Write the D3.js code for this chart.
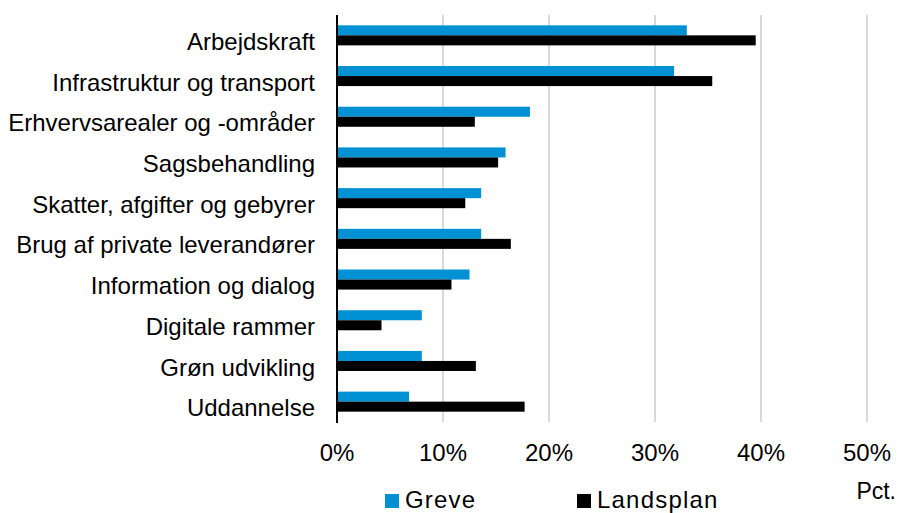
<!DOCTYPE html>
<html>
<head>
<meta charset="utf-8">
<script src="https://cdn.jsdelivr.net/npm/d3@7"></script>
<style>
  body { margin: 0; background: #fff; }
  text { font-family: "Liberation Sans", Arial, sans-serif; fill: #000; }
</style>
</head>
<body>
<div id="chart"></div>
<script>
// categories, top to bottom
var categories = [
  'Arbejdskraft',
  'Infrastruktur og transport',
  'Erhvervsarealer og -områder',
  'Sagsbehandling',
  'Skatter, afgifter og gebyrer',
  'Brug af private leverandører',
  'Information og dialog',
  'Digitale rammer',
  'Grøn udvikling',
  'Uddannelse'
];
var seriesNames = ['Greve', 'Landsplan'];
var greve     = [33.0, 31.8, 18.2, 15.9, 13.6, 13.6, 12.5, 8.0, 8.0, 6.8];
var landsplan = [39.5, 35.4, 13.0, 15.2, 12.1, 16.4, 10.8, 4.2, 13.1, 17.7];
var xTicks = [0, 10, 20, 30, 40, 50];

var colors = {Greve: '#0091d5', Landsplan: '#000000'};

var outerWidth = 899, outerHeight = 513;
var plot = {left: 337, right: 867, top: 15, bottom: 422};

var svg = d3.select('#chart').append('svg')
  .attr('width', outerWidth)
  .attr('height', outerHeight);

// scales
var x = d3.scaleLinear().domain([0, 50]).range([plot.left, plot.right]);
var y0 = d3.scaleBand().domain(categories).range([plot.top, plot.bottom]);
var y1 = d3.scaleBand().domain(seriesNames)
  .range([0, y0.bandwidth()])
  .paddingOuter(1.03);

// gridlines
svg.append('g')
  .selectAll('line')
  .data(xTicks.slice(1))
  .enter().append('line')
    .attr('x1', d => x(d)).attr('x2', d => x(d))
    .attr('y1', plot.top).attr('y2', plot.bottom)
    .attr('stroke', '#d9d9d9')
    .attr('stroke-width', 2);

// bars
var rows = categories.map((c, i) => ({cat: c, values: [
  {name: 'Greve', value: greve[i]},
  {name: 'Landsplan', value: landsplan[i]}
]}));

svg.append('g')
  .selectAll('g')
  .data(rows)
  .enter().append('g')
    .attr('transform', d => 'translate(0,' + y0(d.cat) + ')')
  .selectAll('rect')
  .data(d => d.values)
  .enter().append('rect')
    .attr('x', x(0))
    .attr('y', d => y1(d.name))
    .attr('width', d => x(d.value) - x(0))
    .attr('height', y1.bandwidth())
    .attr('fill', d => colors[d.name]);

// y axis line
svg.append('line')
  .attr('x1', x(0)).attr('x2', x(0))
  .attr('y1', plot.top).attr('y2', plot.bottom + 1)
  .attr('stroke', '#000')
  .attr('stroke-width', 2);

// category labels
svg.append('g')
  .selectAll('text')
  .data(categories)
  .enter().append('text')
    .attr('x', 315)
    .attr('y', d => y0(d) + y0.bandwidth() / 2 + 14.6)
    .attr('text-anchor', 'end')
    .style('font-size', '24px')
    .text(d => d);

// x tick labels
svg.append('g')
  .selectAll('text')
  .data(xTicks)
  .enter().append('text')
    .attr('x', d => x(d))
    .attr('y', 460.5)
    .attr('text-anchor', 'middle')
    .style('font-size', '24px')
    .text(d => d + '%');

// unit label
svg.append('text')
  .attr('x', 896)
  .attr('y', 498.5)
  .attr('text-anchor', 'end')
  .style('font-size', '23px')
  .text('Pct.');

// legend
var legendX = [385, 577];
var legend = svg.append('g')
  .selectAll('g')
  .data(seriesNames)
  .enter().append('g')
    .attr('transform', (d, i) => 'translate(' + legendX[i] + ',494)');
legend.append('rect')
  .attr('width', 14).attr('height', 14)
  .attr('fill', d => colors[d]);
legend.append('text')
  .attr('x', 20)
  .attr('y', 13.5)
  .style('font-size', '24px')
  .style('letter-spacing', '1.2px')
  .text(d => d);
</script>
</body>
</html>
